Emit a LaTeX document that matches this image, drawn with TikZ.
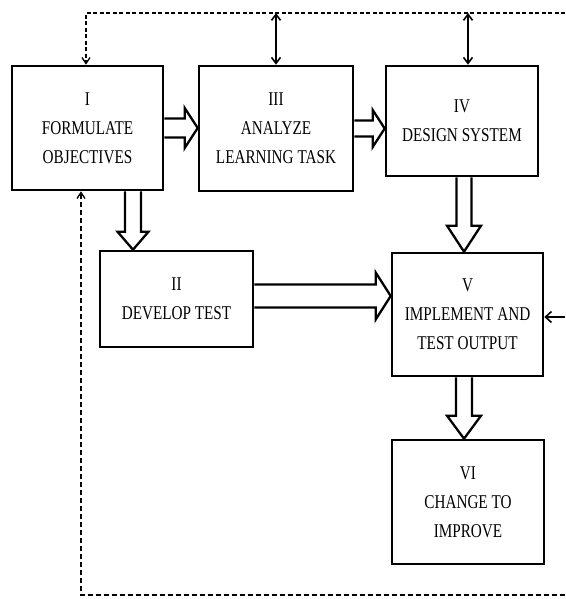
\documentclass[tikz,border=0pt]{standalone}
\usepackage{fontspec}
\setmainfont{Liberation Serif}[FakeStretch=0.78]
\usetikzlibrary{calc,arrows.meta}
\newcommand\blockarr[5]{%
  \coordinate (ba-h) at ($(#2)!#5!(#1)$);
  \draw[blockline] ($(#1)!#3!90:(#2)$) -- ($(ba-h)!#3!-90:(#1)$) -- ($(ba-h)!#4!-90:(#1)$) -- (#2) -- ($(ba-h)!#4!90:(#1)$) -- ($(ba-h)!#3!90:(#1)$) -- ($(#1)!#3!-90:(#2)$);
}
\begin{document}
\begin{tikzpicture}[x=1pt,y=-1pt,
  box/.style={draw, line width=2.6pt, rectangle, align=center, inner sep=0pt,
    font=\fontsize{19.5}{29}\selectfont},
  blockline/.style={line width=2.3pt, line join=miter},
  dbl/.style={line width=1.6pt, {Straight Barb[length=6pt,width=9pt]}-{Straight Barb[length=6pt,width=9pt]}},
  fb/.style={line width=1.3pt, dash pattern=on 4pt off 2.5pt, -{Straight Barb[length=6pt,width=8pt]}},
  inarr/.style={line width=1.6pt, -{Straight Barb[length=6pt,width=11pt]}}]
\useasboundingbox (0,0) rectangle (565,599);
\node[box, minimum width=151pt, minimum height=124pt] (I) at (87.5,128) {I\\FORMULATE\\OBJECTIVES};
\node[box, minimum width=154pt, minimum height=125pt] (III) at (276,128.5) {III\\ANALYZE\\LEARNING TASK};
\node[box, minimum width=152pt, minimum height=110pt] (IV) at (462,121) {IV\\DESIGN SYSTEM};
\node[box, minimum width=153pt, minimum height=96pt] (II) at (176.5,299) {II\\DEVELOP TEST};
\node[box, minimum width=151pt, minimum height=123pt] (V) at (467.5,314.5) {V\\IMPLEMENT AND\\TEST OUTPUT};
\node[box, minimum width=152pt, minimum height=124pt] (VI) at (468,502) {VI\\CHANGE TO\\IMPROVE};
% helper coordinates
\coordinate (c12) at (133,0);
\coordinate (c45) at (464,0);
\coordinate (top) at (0,13);
\coordinate (tl) at (86,13);
\coordinate (tr) at (565,13);
\coordinate (bl) at (81,595);
\coordinate (br) at (565,595);
\coordinate (rin) at (565,317);
\coordinate (dIV) at ($(IV.north)+(6,0)$);
% block arrows
\coordinate (a13s) at (I.east); \coordinate (a13e) at (III.west |- I.east);
\blockarr{a13s}{a13e}{9.5pt}{20pt}{13pt}
\coordinate (a34s) at (III.east); \coordinate (a34e) at (IV.west |- III.east);
\blockarr{a34s}{a34e}{8pt}{18.5pt}{12pt}
\coordinate (a25s) at ($(II.east)+(0,-3)$); \coordinate (a25e) at (V.west |- a25s);
\blockarr{a25s}{a25e}{11.5pt}{23.5pt}{15pt}
\coordinate (a12s) at (I.south -| c12); \coordinate (a12e) at (II.north -| c12);
\blockarr{a12s}{a12e}{8pt}{15.5pt}{18pt}
\coordinate (a45s) at (IV.south -| c45); \coordinate (a45e) at (V.north -| c45);
\blockarr{a45s}{a45e}{7.5pt}{17pt}{26pt}
\coordinate (a56s) at (V.south -| c45); \coordinate (a56e) at (VI.north -| c45);
\blockarr{a56s}{a56e}{8pt}{17pt}{23pt}
% double arrows
\draw[dbl] (III.north |- top) -- (III.north);
\draw[dbl] (dIV |- top) -- (dIV);
% feedback dashed lines
\draw[fb] (tr) -- (tl) -- (tl |- I.north);
\draw[fb, dash pattern=on 5pt off 3pt] (br) -- (bl) -- (bl |- I.south);
% input from right
\draw[inarr] (rin) -- (rin -| V.east);
\end{tikzpicture}
\end{document}
